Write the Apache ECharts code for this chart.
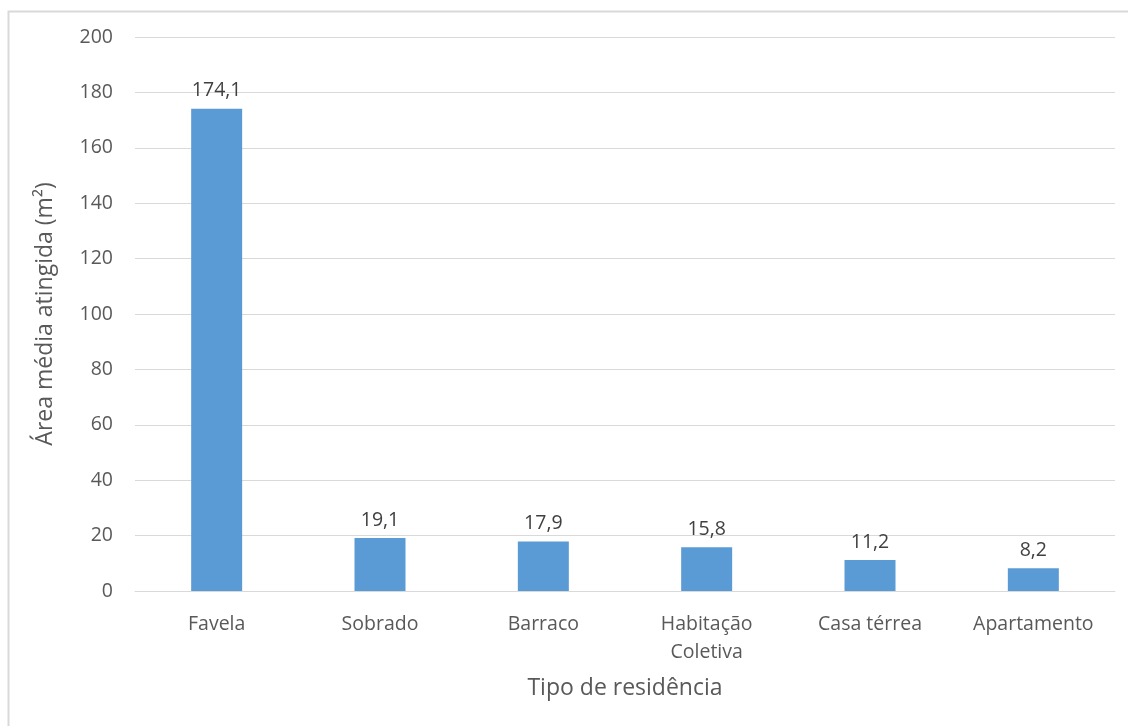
<!DOCTYPE html>
<html><head><meta charset="utf-8">
<script src="https://cdn.jsdelivr.net/npm/echarts@6/dist/echarts.min.js"></script>
<style>html,body{margin:0;padding:0;background:#fff}#c{width:1128px;height:726px}</style>
</head><body><div id="c"></div>
<script>
const categories = ['Favela', 'Sobrado', 'Barraco', 'Habitação\nColetiva', 'Casa térrea', 'Apartamento'];
const values = [174.1, 19.1, 17.9, 15.8, 11.2, 8.2];
const yTicks = [0, 20, 40, 60, 80, 100, 120, 140, 160, 180, 200];
const yAxisTitle = 'Área média atingida (m²)';
const xAxisTitle = 'Tipo de residência';

const FONT = '"Open Sans", "Noto Sans", sans-serif';
const chart = echarts.init(document.getElementById('c'), null, {renderer: 'canvas'});
chart.setOption({
  animation: false,
  textStyle: {fontFamily: FONT},
  graphic: [{
    type: 'rect', shape: {x: 8.5, y: 11.5, width: 1200, height: 800},
    style: {fill: 'none', stroke: '#d9d9d9', lineWidth: 2}, silent: true
  }],
  grid: {left: 135, right: 13, top: 37, bottom: 135, containLabel: false},
  xAxis: {
    type: 'category', data: categories,
    name: xAxisTitle, nameLocation: 'middle', nameGap: 86,
    nameTextStyle: {fontSize: 23, color: '#595959', fontFamily: FONT},
    axisLine: {show: true, lineStyle: {color: '#d9d9d9', width: 1}},
    axisTick: {show: false},
    axisLabel: {fontSize: 19.5, color: '#595959', margin: 19, lineHeight: 28, fontFamily: FONT}
  },
  yAxis: {
    type: 'value', min: yTicks[0], max: yTicks[yTicks.length - 1], interval: 20,
    name: yAxisTitle, nameLocation: 'middle', nameGap: 78, nameRotate: 90,
    nameTextStyle: {fontSize: 23, color: '#595959', fontFamily: FONT},
    axisLine: {show: false}, axisTick: {show: false},
    splitLine: {lineStyle: {color: '#d9d9d9', width: 1}},
    axisLabel: {fontSize: 19.5, color: '#595959', margin: 22, fontFamily: FONT}
  },
  series: [{
    type: 'bar', data: values, barWidth: 51,
    itemStyle: {color: '#5b9bd5'},
    label: {
      show: true, position: 'top', distance: 8, fontSize: 19.5, color: '#404040', fontFamily: FONT,
      formatter: p => p.value.toFixed(1).replace('.', ',')
    }
  }]
});
</script></body></html>
